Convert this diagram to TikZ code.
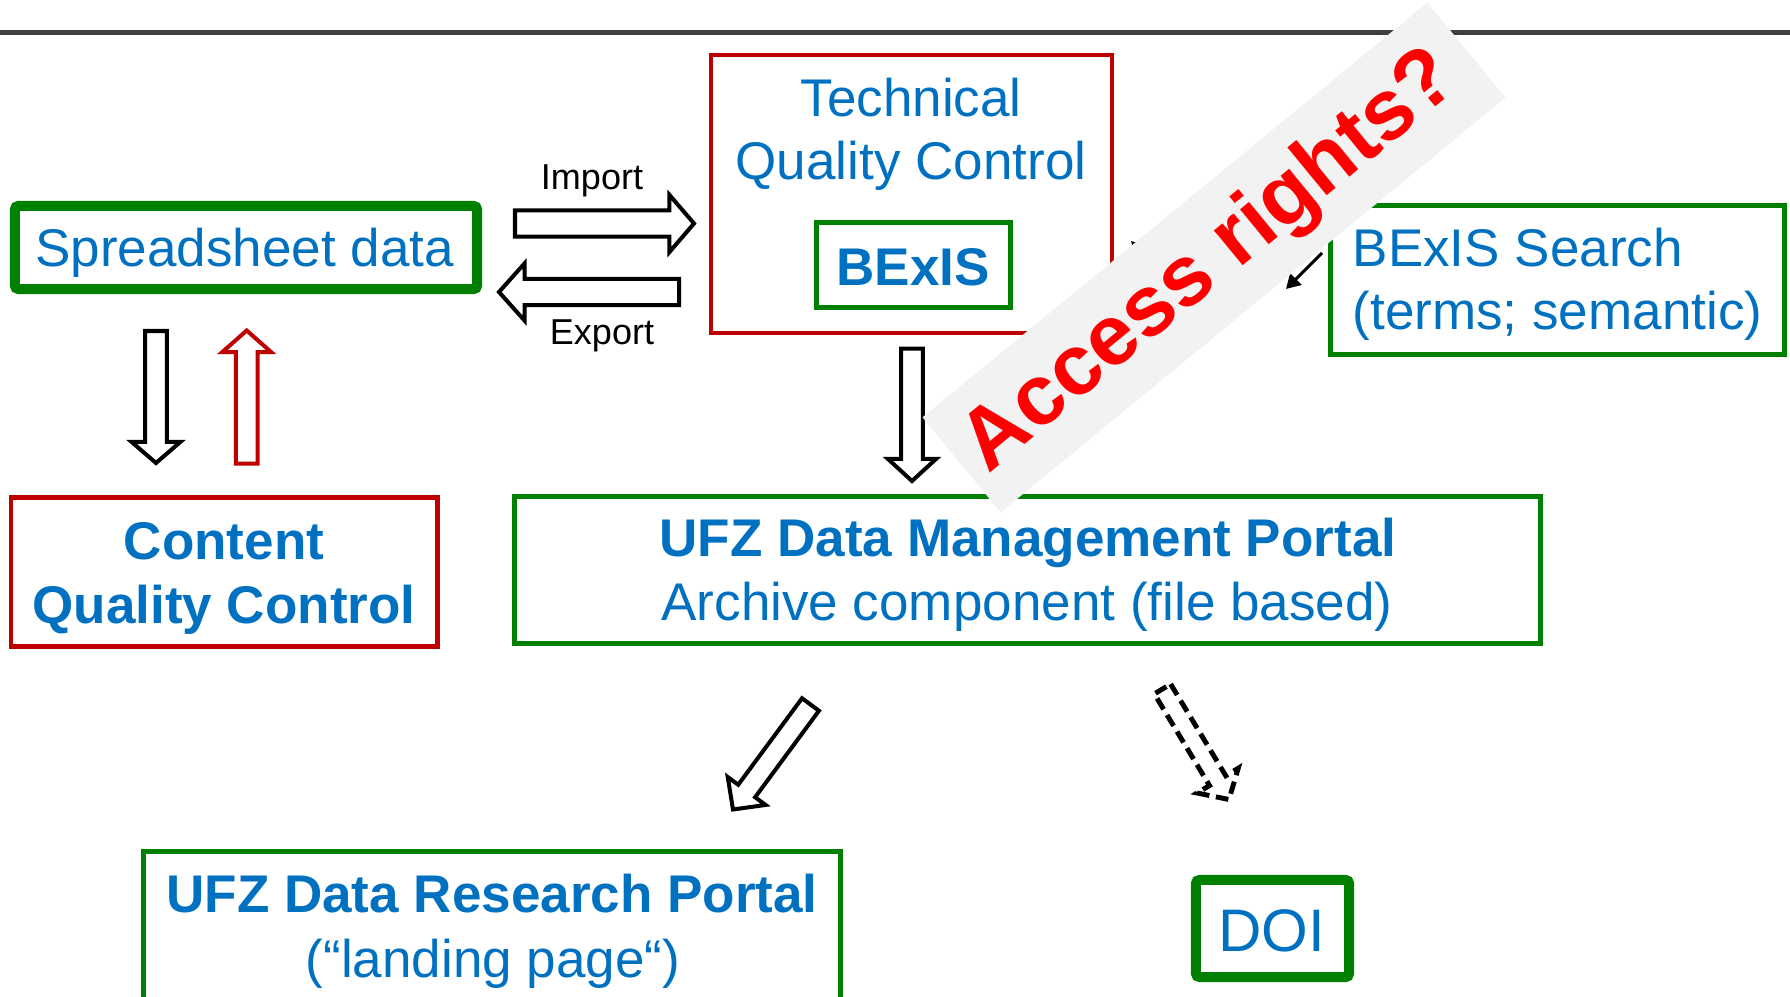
\documentclass[tikz,border=0pt]{standalone}
\usepackage{fontspec}
\setmainfont{Liberation Sans}
\usetikzlibrary{calc,arrows.meta}
\definecolor{ufzgreen}{RGB}{0,128,0}
\definecolor{qred}{RGB}{192,0,0}
\definecolor{ufzblue}{RGB}{0,112,192}
\definecolor{accred}{RGB}{255,0,0}
\definecolor{bannergray}{RGB}{242,242,242}
\definecolor{rulegray}{RGB}{64,64,64}
\newcommand\fsM{\fontsize{15.08pt}{18pt}\selectfont}
\newcommand\fsS{\fontsize{10.24pt}{12pt}\selectfont}
\newcommand\fsL{\fontsize{17.07pt}{20pt}\selectfont}
\newcommand\fsA{\fontsize{24.3pt}{28pt}\selectfont}
% block arrow: [style]{tail}{tip}{shaft half width}{head half width}{head length}
\newcommand\blockarr[6][]{%
  \path coordinate (bac) at ($(#3)!#6!(#2)$);
  \draw[#1] ($(#2)!#4!90:(#3)$) -- ($(bac)!#4!90:(#3)$) -- ($(bac)!#5!90:(#3)$)
    -- (#3) -- ($(bac)!#5!-90:(#3)$) -- ($(bac)!#4!-90:(#3)$)
    -- ($(#2)!#4!-90:(#3)$) -- cycle;}
\tikzset{
  gbox/.style={draw=ufzgreen, line width=1.42pt, inner sep=0pt},
  gthick/.style={draw=ufzgreen, line width=2.85pt, rounded corners=1pt, inner sep=0pt},
  rbox/.style={draw=qred, line width=1.3pt, inner sep=0pt},
  txt/.style={text=ufzblue, font=\fsM, inner sep=0pt, anchor=base},
  btxt/.style={txt, font=\fsM\bfseries},
  lbl/.style={text=black, font=\fsS, inner sep=0pt, anchor=base},
  blk/.style={draw=black, fill=white, line width=1.14pt, line join=miter},
  redblk/.style={blk, draw=qred},
  dashblk/.style={blk, line width=1.4pt, dash pattern=on 3.6pt off 1.9pt},
  hidarrow/.style={draw=black, line width=0.85pt, -{Triangle[length=4pt,width=4.5pt]}},
  banner/.style={fill=bannergray, inner sep=0pt, rotate=39.4,
    minimum width=6.53cm, minimum height=1.23cm},
  acctext/.style={text=accred, font=\fsA\bfseries, inner sep=0pt, rotate=39.4,
    text height=0.716em, text depth=0pt},
}
\begin{document}
\begin{tikzpicture}[x=0.01cm, y=-0.01cm]
\useasboundingbox (0,0) rectangle (1790,997);
\clip (0,0) rectangle (1790,997);
% top rule
\draw[rulegray, line width=1.42pt] (0,32.5) -- (1790,32.5);
% boxes
\node[gthick, minimum width=4.62cm, minimum height=0.83cm] (ss) at (246,247.5) {};
\node[rbox, minimum width=4.01cm, minimum height=2.78cm] (tqc) at (911.5,194) {};
\node[gbox, minimum width=1.93cm, minimum height=0.84cm] (bex) at (913.5,265) {};
\node[gbox, minimum width=4.53cm, minimum height=1.48cm] (bsr) at (1557.5,280) {};
\node[rbox, minimum width=4.265cm, minimum height=1.49cm] (cqc) at (224.25,572) {};
\node[gbox, minimum width=10.255cm, minimum height=1.47cm] (dmp) at (1027.75,570) {};
\node[gbox, minimum width=6.96cm, minimum height=1.535cm] (drp) at (492,928.25) {};
\node[gthick, minimum width=1.53cm, minimum height=0.97cm] (doi) at (1272.5,928.5) {};
% texts
\node[txt] (tss) at (244.5,267) {Spreadsheet data};
\node[txt] (ttqc1) at (911,117) {Technical};
\node[txt] (ttqc2) at (911,180) {Quality Control};
\node[btxt] (tbex) at (913,285) {BExIS};
\node[txt, anchor=base west] (tbsr1) at (1352,267) {BExIS Search};
\node[txt, anchor=base west] (tbsr2) at (1352,330) {(terms; semantic)};
\node[btxt] (tcqc1) at (224,559) {Content};
\node[btxt] (tcqc2) at (224,623) {Quality Control};
\node[btxt] (tdmp1) at (1028,557) {UFZ Data Management Portal};
\node[txt] (tdmp2) at (1027,620) {Archive component (file based)};
\node[btxt] (tdrp1) at (492,912) {UFZ Data Research Portal};
\node[txt] (tdrp2) at (493,977) {(“landing page“)};
\node[txt, font=\fsL] (tdoi) at (1272,951.7) {DOI};
\node[lbl] (timp) at (592,189.5) {Import};
\node[lbl] (texp) at (602,344) {Export};
% block arrows
\coordinate (impA) at (515,223.5); \coordinate (impB) at (694,223.5);
\blockarr[blk]{impA}{impB}{0.13cm}{0.285cm}{0.245cm}
\coordinate (expA) at (679,292); \coordinate (expB) at (499,292);
\blockarr[blk]{expA}{expB}{0.13cm}{0.285cm}{0.255cm}
\coordinate (dnA) at (156,331); \coordinate (dnB) at (156,463);
\blockarr[blk]{dnA}{dnB}{0.108cm}{0.243cm}{0.21cm}
\coordinate (upA) at (246.7,463.7); \coordinate (upB) at (246.7,330.5);
\blockarr[redblk]{upA}{upB}{0.108cm}{0.243cm}{0.215cm}
\coordinate (tqA) at (912,348.7); \coordinate (tqB) at (912,481);
\blockarr[blk]{tqA}{tqB}{0.108cm}{0.24cm}{0.22cm}
\coordinate (rpA) at (810.5,704.5); \coordinate (rpB) at (733,809.5);
\blockarr[blk]{rpA}{rpB}{0.105cm}{0.235cm}{0.23cm}
\coordinate (doA) at (1162.5,689); \coordinate (doB) at (1229,799.5);
\blockarr[dashblk]{doA}{doB}{0.095cm}{0.24cm}{0.22cm}
% thin arrows mostly hidden behind the banner
\coordinate (hA1) at (1185,295); \coordinate (hB1) at (1131,241);
\draw[hidarrow] (hA1) -- (hB1);
\coordinate (hA2) at (1322,253); \coordinate (hB2) at (1286,289);
\draw[hidarrow] (hA2) -- (hB2);
% banner
\node[banner] (acc) at (1214,257.5) {};
\node[acctext] (acct) at (1217.5,270) {Access rights?};
\end{tikzpicture}
\end{document}
